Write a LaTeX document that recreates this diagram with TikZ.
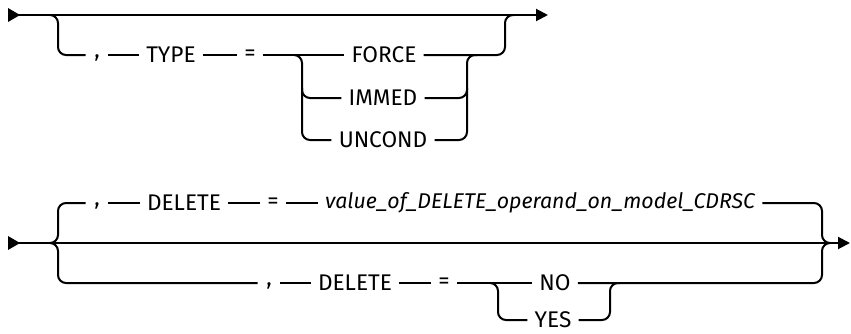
\documentclass[tikz,border=0pt]{standalone}
\usepackage{fontspec}
\setmainfont{Fira Sans}
\usetikzlibrary{arrows.meta}
\tikzset{
  pxscale/.style={x=0.75pt,y=-0.75pt},
  railline/.style={line width=1.5pt, rounded corners=6pt},
  endtip/.style={-{Triangle[length=9pt,width=9pt]}},
  kwnode/.style={inner sep=0pt, font=\fontsize{17pt}{19pt}\selectfont, anchor=center, outer xsep=5.5pt},
  valnode/.style={kwnode, font=\fontsize{16pt}{18pt}\selectfont\itshape},
  commanode/.style={kwnode, outer xsep=6.5pt},
  startmark/.style={fill=black, draw=none}
}
\begin{document}
\begin{tikzpicture}[pxscale]
\useasboundingbox (0,0) rectangle (851,333);
% ---------- top diagram ----------
\coordinate (s1) at (8,15);
\coordinate (e1) at (548,15);
\fill[startmark] (8,8) -- (20,15) -- (8,22) -- cycle;
\draw[railline,endtip] (s1) -- (e1);

\node[commanode] (c1) at (97,58) {,};
\node[kwnode] (type) at (171,55) {TYPE};
\node[kwnode] (eq1) at (250,55) {=};
\node[kwnode] (force) at (384,55) {FORCE};
\node[kwnode] (immed) at (383,98) {IMMED};
\node[kwnode] (uncond) at (383,140) {UNCOND};

\draw[railline] (50,15) -- (58,15) -- (58,55) -- (c1.west |- 0,55);
\draw[railline] (c1.east |- 0,55) -- (type.west);
\draw[railline] (type.east) -- (eq1.west);
\draw[railline] (eq1.east) -- (force.west);
\draw[railline] (294,55) -- (302,55) -- (302,140) -- (uncond.west);
\draw[railline] (302,88) -- (302,98) -- (immed.west);
\draw[railline] (force.east) -- (505,55) -- (505,15) -- (514,15);
\draw[railline] (uncond.east) -- (467,140) -- (467,55) -- (477,55);
\draw[railline] (immed.east) -- (467,98) -- (467,88);

% ---------- bottom diagram ----------
\coordinate (s2) at (8,243);
\coordinate (e2) at (850,243);
\fill[startmark] (8,236) -- (20,243) -- (8,250) -- cycle;
\draw[railline,endtip] (s2) -- (e2);

\node[commanode] (c2) at (97,206) {,};
\node[kwnode] (del1) at (184,203) {DELETE};
\node[kwnode] (eq2) at (273,203) {=};
\node[valnode] (val) at (540,203) {value\_of\_DELETE\_operand\_on\_model\_CDRSC};

\node[commanode] (c3) at (269,286) {,};
\node[kwnode] (del2) at (355,283) {DELETE};
\node[kwnode] (eq3) at (444,283) {=};
\node[kwnode] (no) at (555,283) {NO};
\node[kwnode] (yes) at (553,320) {YES};

% upper branch
\draw[railline] (50,243) -- (58,243) -- (58,203) -- (c2.west |- 0,203);
\draw[railline] (c2.east |- 0,203) -- (del1.west);
\draw[railline] (del1.east) -- (eq2.west);
\draw[railline] (eq2.east) -- (val.west);
\draw[railline] (val.east) -- (822,203) -- (822,243) -- (830,243);

% lower branch
\draw[railline] (50,243) -- (58,243) -- (58,283) -- (c3.west |- 0,283);
\draw[railline] (c3.east |- 0,283) -- (del2.west);
\draw[railline] (del2.east) -- (eq3.west);
\draw[railline] (eq3.east) -- (no.west);
\draw[railline] (490,283) -- (498,283) -- (498,320) -- (yes.west);
\draw[railline] (no.east) -- (822,283) -- (822,243) -- (830,243);
\draw[railline] (yes.east) -- (610,320) -- (610,283) -- (620,283);
\end{tikzpicture}
\end{document}
